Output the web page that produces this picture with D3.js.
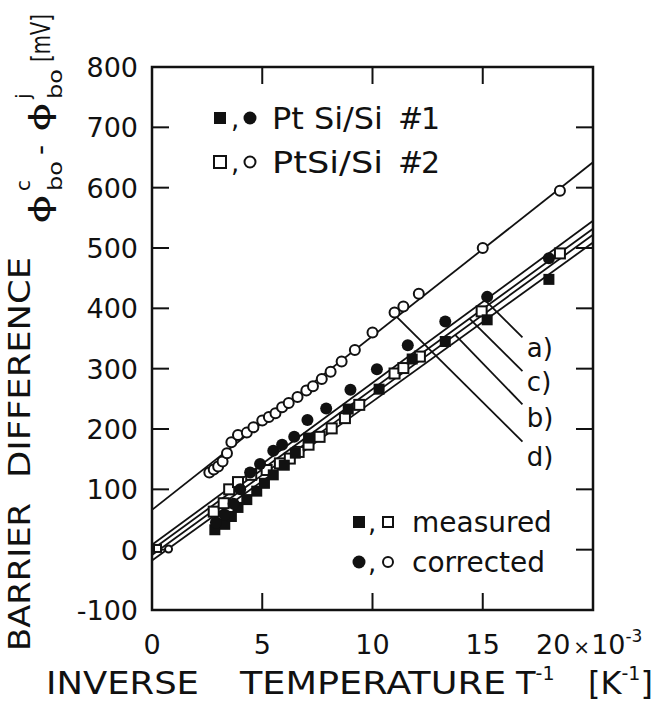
<!DOCTYPE html>
<html lang="en">
<head>
<meta charset="UTF-8">
<title>Barrier difference vs inverse temperature</title>
<script src="https://d3js.org/d3.v7.min.js"></script>
<style>
  body { margin: 0; background: #fff; }
  text { font-family: "DejaVu Sans", sans-serif; fill: #111; }
</style>
</head>
<body>
<svg id="chart" width="667" height="706"></svg>
<script>
// axis ticks
const xTicks = [0, 5, 10, 15];
const yTicks = [-100, 0, 100, 200, 300, 400, 500, 600, 700, 800];

// PtSi/Si #1 measured (filled squares), x in 1e-3 K^-1, y in mV
const s1Measured = [[2.85,33],[3.3,42],[3.6,55],[3.9,70],[4.3,83],[4.75,97],[5.1,110],[5.5,124],
  [6.0,140],[6.5,160],[7.1,185],[8.9,233],[10.3,266],[11.8,316],[13.3,345],[15.2,381],[18.0,448]];
// PtSi/Si #1 corrected (filled circles)
const s1Corrected = [[2.9,45],[3.3,58],[3.7,76],[4.0,100],[4.45,128],[4.9,142],[5.5,164],[5.9,174],
  [6.45,187],[7.05,215],[7.9,234],[9.0,265],[10.2,299],[11.6,339],[13.3,378],[15.2,419],[18.0,483]];
// PtSi/Si #2 measured (open squares)
const s2Measured = [[2.8,63],[3.25,77],[3.5,100],[3.9,112],[4.5,124],[5.2,132],[5.8,143],[6.25,151],
  [6.65,162],[7.1,174],[7.6,187],[8.15,201],[8.75,218],[9.4,240],[11.0,292],[11.4,301],[12.15,320],
  [14.95,395],[18.5,491]];
// PtSi/Si #2 corrected (open circles)
const s2Corrected = [[2.6,128],[2.8,133],[3.0,138],[3.2,146],[3.4,160],[3.6,178],[3.9,190],[4.3,194],
  [4.6,203],[5.0,214],[5.3,220],[5.6,226],[5.9,236],[6.2,243],[6.6,253],[7.0,264],[7.3,271],[7.7,283],
  [8.1,295],[8.6,312],[9.2,331],[10.0,360],[11.0,393],[11.4,403],[12.1,424],[15.0,500],[18.5,595]];
// small markers at the intercept
const nearZeroSquares = [[0.25,2]];
const nearZeroCircles = [[0.75,1]];

// straight fits: value at x = 0 and at x = 20
const fitNames = ["upper", "a)", "c)", "b)", "d)"];
const fitAt0 = [66, 8, 0, -9, -18];
const fitAt20 = [642, 545, 532, 522, 509];

// leader lines from the fits to their labels
const leaderNames = ["a)", "c)", "b)", "d)"];
const leaderFromFit = ["a)", "c)", "b)", "upper"];
const leaderStartX = [15.1, 14.4, 13.75, 11.1];
const leaderEnd = [[16.8, 352], [16.8, 296], [16.8, 241], [16.8, 179]];
const leaderLabelY = [334, 278, 218, 154];

const svg = d3.select("#chart");
const mLeft = 152, mRight = 593, mTop = 67, mBottom = 610;

const x = d3.scaleLinear().domain([0, 20]).range([mLeft, mRight]);
const y = d3.scaleLinear().domain([-100, 800]).range([mBottom, mTop]);

const fitValue = function (name, xv) {
  const i = fitNames.indexOf(name);
  return fitAt0[i] + (fitAt20[i] - fitAt0[i]) * xv / 20;
};

// frame
svg.append("rect")
  .attr("x", mLeft).attr("y", mTop)
  .attr("width", mRight - mLeft).attr("height", mBottom - mTop)
  .attr("fill", "none").attr("stroke", "#111").attr("stroke-width", 2.5);

// inward ticks on all four sides
const tickLen = 17;
const ticks = svg.append("g").attr("stroke", "#111").attr("stroke-width", 2);
yTicks.slice(1, -1).forEach(function (v) {
  ticks.append("line").attr("x1", mLeft).attr("x2", mLeft + tickLen).attr("y1", y(v)).attr("y2", y(v));
  ticks.append("line").attr("x1", mRight).attr("x2", mRight - tickLen).attr("y1", y(v)).attr("y2", y(v));
});
xTicks.slice(1).forEach(function (v) {
  ticks.append("line").attr("x1", x(v)).attr("x2", x(v)).attr("y1", mBottom).attr("y2", mBottom - tickLen);
  ticks.append("line").attr("x1", x(v)).attr("x2", x(v)).attr("y1", mTop).attr("y2", mTop + tickLen);
});

// tick labels
svg.append("g").selectAll("text").data(yTicks).enter().append("text")
  .attr("x", 138).attr("y", function (d) { return y(d) + 10; })
  .attr("text-anchor", "end").attr("font-size", 27)
  .text(function (d) { return d; });

svg.append("g").selectAll("text").data(xTicks).enter().append("text")
  .attr("x", function (d) { return x(d); }).attr("y", 654)
  .attr("text-anchor", "middle").attr("font-size", 27)
  .text(function (d) { return d; });

const t20 = svg.append("text").attr("x", 536).attr("y", 654).attr("font-size", 27);
t20.append("tspan").text("20");
t20.append("tspan").attr("font-size", 20).attr("dx", 3).text("×");
t20.append("tspan").attr("dx", 1).text("10");
t20.append("tspan").attr("font-size", 17).attr("dy", -12).text("-3");

// fitted lines
const fitG = svg.append("g").attr("stroke", "#111").attr("stroke-width", 1.8).attr("fill", "none");
fitNames.forEach(function (name, i) {
  fitG.append("line")
    .attr("x1", x(0)).attr("y1", y(fitAt0[i]))
    .attr("x2", x(20)).attr("y2", y(fitAt20[i]));
});

// leaders and labels
leaderNames.forEach(function (name, i) {
  const sx = leaderStartX[i];
  fitG.append("line")
    .attr("x1", x(sx)).attr("y1", y(fitValue(leaderFromFit[i], sx)))
    .attr("x2", x(leaderEnd[i][0])).attr("y2", y(leaderEnd[i][1]));
  svg.append("text")
    .attr("x", x(17.0)).attr("y", y(leaderLabelY[i]) + 9)
    .attr("font-size", 26).text(name);
});

// markers
const drawSquares = function (data, filled, size) {
  svg.append("g").selectAll("rect").data(data).enter().append("rect")
    .attr("x", function (d) { return x(d[0]) - size / 2; })
    .attr("y", function (d) { return y(d[1]) - size / 2; })
    .attr("width", size).attr("height", size)
    .attr("fill", filled ? "#111" : "#fff")
    .attr("stroke", "#111").attr("stroke-width", filled ? 0 : 2);
};
const drawCircles = function (data, filled, r) {
  svg.append("g").selectAll("circle").data(data).enter().append("circle")
    .attr("cx", function (d) { return x(d[0]); })
    .attr("cy", function (d) { return y(d[1]); })
    .attr("r", r)
    .attr("fill", filled ? "#111" : "#fff")
    .attr("stroke", "#111").attr("stroke-width", filled ? 0 : 2);
};

drawCircles(s2Corrected, false, 5);
drawSquares(s2Measured, false, 10);
drawSquares(s1Measured, true, 11);
drawCircles(s1Corrected, true, 6);
drawSquares(nearZeroSquares, false, 7);
drawCircles(nearZeroCircles, false, 3.5);

// legend, top left
const legendRows = [
  { y: 118, filled: true, label: "Pt Si/Si", num: "#1" },
  { y: 162, filled: false, label: "PtSi/Si", num: "#2" }
];
legendRows.forEach(function (r) {
  svg.append("rect").attr("x", 214).attr("y", r.y - 6).attr("width", 12).attr("height", 12)
    .attr("fill", r.filled ? "#111" : "#fff").attr("stroke", "#111").attr("stroke-width", r.filled ? 0 : 2);
  svg.append("text").attr("x", 231).attr("y", r.y + 10).attr("font-size", 26).text(",");
  svg.append("circle").attr("cx", 250).attr("cy", r.y).attr("r", r.filled ? 6.5 : 5.5)
    .attr("fill", r.filled ? "#111" : "#fff").attr("stroke", "#111").attr("stroke-width", r.filled ? 0 : 2);
  svg.append("text").attr("x", 272).attr("y", r.y + 11).attr("font-size", 30)
    .attr("textLength", 111).attr("lengthAdjust", "spacingAndGlyphs").text(r.label);
  svg.append("text").attr("x", 398).attr("y", r.y + 11).attr("font-size", 30)
    .attr("textLength", 42).attr("lengthAdjust", "spacing").text(r.num);
});

// legend, bottom right
const legend2 = [
  { y: 522, square: true, label: "measured" },
  { y: 562, square: false, label: "corrected" }
];
legend2.forEach(function (r) {
  if (r.square) {
    svg.append("rect").attr("x", 353).attr("y", r.y - 6).attr("width", 12).attr("height", 12).attr("fill", "#111");
    svg.append("rect").attr("x", 383).attr("y", r.y - 5).attr("width", 10).attr("height", 10)
      .attr("fill", "#fff").attr("stroke", "#111").attr("stroke-width", 2);
  } else {
    svg.append("circle").attr("cx", 359).attr("cy", r.y).attr("r", 6.5).attr("fill", "#111");
    svg.append("circle").attr("cx", 388).attr("cy", r.y).attr("r", 5)
      .attr("fill", "#fff").attr("stroke", "#111").attr("stroke-width", 2);
  }
  svg.append("text").attr("x", 368).attr("y", r.y + 10).attr("font-size", 26).text(",");
  svg.append("text").attr("x", 412).attr("y", r.y + 10).attr("font-size", 28).text(r.label);
});

// x axis title
const xt = svg.append("g").attr("font-size", 32);
xt.append("text").attr("x", 46).attr("y", 694).attr("textLength", 153)
  .attr("lengthAdjust", "spacingAndGlyphs").text("INVERSE");
xt.append("text").attr("x", 240).attr("y", 694).attr("textLength", 266)
  .attr("lengthAdjust", "spacingAndGlyphs").text("TEMPERATURE");
const tT = xt.append("text").attr("x", 516).attr("y", 694);
tT.append("tspan").text("T");
tT.append("tspan").attr("font-size", 19).attr("dy", -14).text("-1");
const tK = xt.append("text").attr("x", 588).attr("y", 694);
tK.append("tspan").text("[K");
tK.append("tspan").attr("font-size", 19).attr("dy", -14).text("-1");
tK.append("tspan").attr("dy", 14).text("]");

// y axis title (rotated, reads bottom to top)
const yt = svg.append("g").attr("transform", "translate(30,0) rotate(-90)");
yt.append("text").attr("x", -651).attr("y", 0).attr("font-size", 31)
  .attr("textLength", 148).attr("lengthAdjust", "spacingAndGlyphs").text("BARRIER");
yt.append("text").attr("x", -478).attr("y", 0).attr("font-size", 31)
  .attr("textLength", 221).attr("lengthAdjust", "spacingAndGlyphs").text("DIFFERENCE");
const phi = svg.append("g").attr("transform", "translate(50,0) rotate(-90)");
phi.append("text").attr("x", -224).attr("y", 0).attr("font-size", 29)
  .attr("textLength", 30).attr("lengthAdjust", "spacingAndGlyphs").text("\u03d5");
phi.append("text").attr("x", -191).attr("y", -20).attr("font-size", 20).text("c");
phi.append("text").attr("x", -191).attr("y", 12).attr("font-size", 20)
  .attr("textLength", 30).attr("lengthAdjust", "spacingAndGlyphs").text("bo");
phi.append("text").attr("x", -155).attr("y", 0).attr("font-size", 28).text("-");
phi.append("text").attr("x", -132).attr("y", 0).attr("font-size", 29)
  .attr("textLength", 30).attr("lengthAdjust", "spacingAndGlyphs").text("\u03d5");
phi.append("text").attr("x", -99).attr("y", -20).attr("font-size", 20).text("j");
phi.append("text").attr("x", -99).attr("y", 12).attr("font-size", 20)
  .attr("textLength", 30).attr("lengthAdjust", "spacingAndGlyphs").text("bo");
phi.append("text").attr("x", -62).attr("y", 0).attr("font-size", 26)
  .attr("textLength", 48).attr("lengthAdjust", "spacingAndGlyphs").text("[mV]");
</script>
</body>
</html>
